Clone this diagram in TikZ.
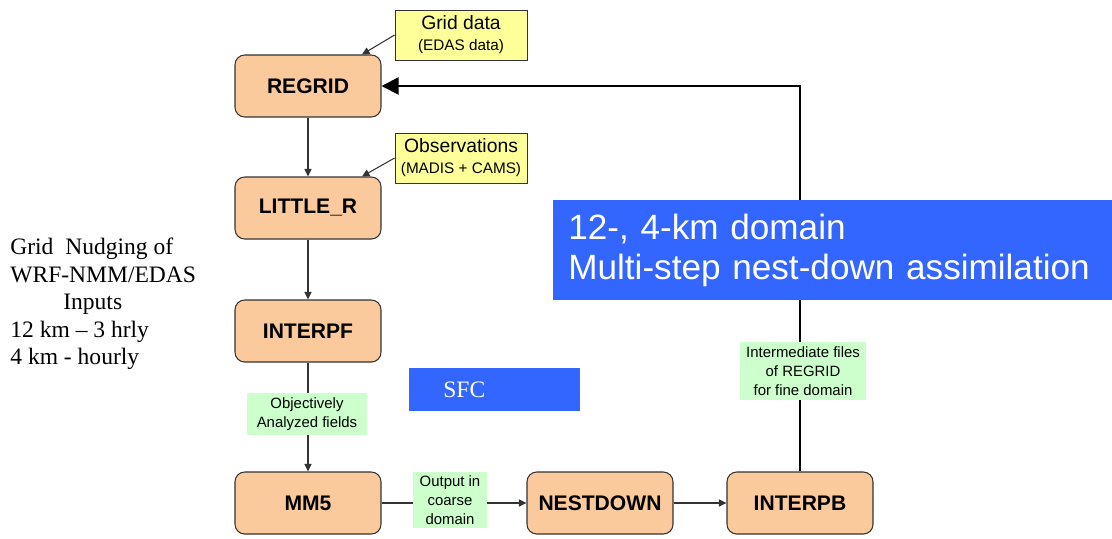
\documentclass[tikz,border=0pt]{standalone}
\usepackage{fontspec}
\setmainfont{Liberation Serif}
\setsansfont{Liberation Sans}
\usetikzlibrary{arrows.meta}

\definecolor{peach}{RGB}{250,202,156}
\definecolor{notecolor}{RGB}{255,255,153}
\definecolor{tagcolor}{RGB}{204,255,204}
\definecolor{bannercolor}{RGB}{51,102,255}

\tikzset{
  prog/.style={draw=black!80, fill=peach, rounded corners=5.5pt, line width=0.6pt,
    minimum width=2.92cm, minimum height=1.24cm, inner sep=0pt,
    font=\sffamily\bfseries\fontsize{12}{14}\selectfont},
  note/.style={draw=black!80, fill=notecolor, line width=0.5pt,
    minimum width=2.64cm, minimum height=1cm, inner sep=0pt, align=center,
    font=\sffamily\fontsize{11}{12}\selectfont},
  tag/.style={fill=tagcolor, inner sep=0pt, align=center,
    minimum width=2.4cm, minimum height=0.84cm,
    font=\sffamily\fontsize{8.5}{11}\selectfont},
  banner/.style={fill=bannercolor, text=white, anchor=north west, align=left},
  link/.style={draw=black!80, line width=0.6pt, -{Triangle[length=1.5mm,width=1.4mm]}},
  feedback/.style={draw=black, line width=1.1pt, -{Triangle[length=3.4mm,width=3.4mm]}}
}

\begin{document}
\begin{tikzpicture}[x=0.02cm,y=-0.02cm]
\useasboundingbox (0,0) rectangle (1112,538);

% programs
\node[prog] (regrid) at (308,86) {REGRID};
\node[prog] (littler) at (308,208) {LITTLE\_R};
\node[prog] (interpf) at (308,331) {INTERPF};
\node[prog] (mm5) at (308,503) {MM5};
\node[prog] (nestdown) at (600,503) {NESTDOWN};
\node[prog] (interpb) at (800,503) {INTERPB};

% inputs
\node[note] (griddata) at (461,35) {Grid data\\{\fontsize{8.7}{10}\selectfont (EDAS data)}};
\node[note] (obs) at (461,158) {Observations\\{\fontsize{8.7}{10}\selectfont (MADIS + CAMS)}};

% flow
\draw[link] (regrid) -- (littler);
\draw[link] (littler) -- (interpf);
\draw[link] (interpf) -- (mm5);
\draw[link] (mm5) -- (nestdown);
\draw[link] (nestdown) -- (interpb);
\draw[link] (griddata.west) -- ([xshift=1.08cm]regrid.north);
\draw[link] (obs.west) -- ([xshift=1.08cm]littler.north);
\draw[feedback] (interpb.north) |- (regrid.east);

% labels on the lines
\node[tag] (objfields) at (307,414) {Objectively\\Analyzed fields};
\node[tag, minimum width=1.48cm, minimum height=1.12cm] (coarse) at (450,500) {Output in\\coarse\\domain};
\node[tag, minimum width=2.52cm, minimum height=1.16cm] (interfiles) at (803,371) {Intermediate files\\of REGRID\\for fine domain};

% banners
\node[banner, minimum height=2cm, text width=10.58cm, inner xsep=0.3cm,
  font=\sffamily\fontsize{20}{22.7}\selectfont] (domain) at (553,200)
  {12-, 4-km domain\\Multi-step nest-down assimilation};
\node[banner, minimum height=0.86cm, text width=2.06cm, inner xsep=0.68cm, inner ysep=0pt,
  font=\rmfamily\fontsize{13.4}{15}\selectfont] (sfc) at (409,368) {SFC};

% side note
\node[anchor=north west, inner sep=0pt, align=left,
  font=\rmfamily\fontsize{13.4}{15.6}\selectfont] (nudging) at (10,238)
  {Grid\ \ Nudging of\\WRF-NMM/EDAS\\\hspace*{1.06cm}Inputs\\12 km – 3 hrly\\4 km - hourly};
\end{tikzpicture}
\end{document}
